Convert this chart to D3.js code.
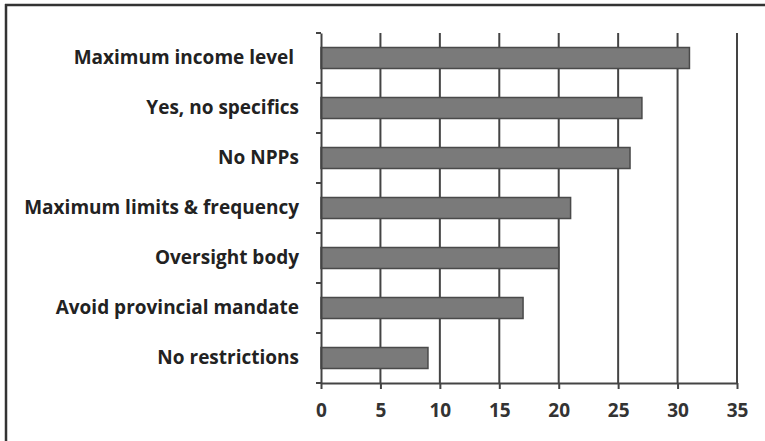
<!DOCTYPE html>
<html><head><meta charset="utf-8">
<script src="https://cdn.jsdelivr.net/npm/d3@7"></script>
<style>body{margin:0;background:#fff}svg{display:block}</style>
</head><body>
<svg id="c" width="765" height="441"></svg>
<script>
const categories = ["Maximum income level ", "Yes, no specifics", "No NPPs", "Maximum limits & frequency", "Oversight body", "Avoid provincial mandate", "No restrictions"];
const values = [31, 27, 26, 21, 20, 17, 9];
const xTicks = [0, 5, 10, 15, 20, 25, 30, 35];

const svg = d3.select("#c");
const L = 321, R = 737, T = 33, B = 383;
const x = d3.scaleLinear().domain([0, 35]).range([L, R]);
const y = d3.scaleBand().domain(categories).range([T, B]).paddingInner(0.58).paddingOuter(0.29);
const yb = d3.scaleBand().domain(categories).range([T, B]);

// frame
svg.append("line").attr("x1", 6).attr("x2", 6).attr("y1", 4).attr("y2", 441).attr("stroke", "#333").attr("stroke-width", 2.5);
svg.append("line").attr("x1", 5).attr("x2", 765).attr("y1", 5).attr("y2", 5).attr("stroke", "#333").attr("stroke-width", 2.5);

// gridlines
svg.append("g").selectAll("line").data(xTicks.slice(1)).join("line")
  .attr("x1", d => x(d)).attr("x2", d => x(d)).attr("y1", T).attr("y2", B)
  .attr("stroke", "#444").attr("stroke-width", 2);

// bars
svg.append("g").selectAll("rect").data(categories).join("rect")
  .attr("x", x(0)).attr("y", d => y(d))
  .attr("width", (d, i) => x(values[i]) - x(0)).attr("height", y.bandwidth())
  .attr("fill", "#7a7a7a").attr("stroke", "#4a4a4a").attr("stroke-width", 1.5);

// x axis
const xa = svg.append("g").attr("transform", `translate(0,${B})`)
  .call(d3.axisBottom(x).tickValues(xTicks).tickSize(6).tickSizeOuter(0).tickPadding(15));
xa.select(".domain").attr("stroke", "#444").attr("stroke-width", 2);
xa.selectAll(".tick line").attr("stroke", "#444").attr("stroke-width", 2);
xa.selectAll("text").attr("font-family", "'Open Sans', sans-serif").attr("font-weight", "bold")
  .attr("font-size", 19).attr("fill", "#333");

// y axis
const ya = svg.append("g").attr("transform", `translate(${L},0)`)
  .call(d3.axisLeft(yb).tickSize(0).tickSizeOuter(0).tickPadding(22));
ya.select(".domain").attr("stroke", "#444").attr("stroke-width", 2);
ya.selectAll("text").attr("font-family", "'Open Sans', sans-serif").attr("font-weight", "bold")
  .attr("font-size", 19).attr("fill", "#222").style("white-space", "pre");
// band boundary ticks
svg.append("g").selectAll("line").data(d3.range(categories.length + 1)).join("line")
  .attr("x1", L - 5).attr("x2", L).attr("y1", i => T + i * yb.step()).attr("y2", i => T + i * yb.step())
  .attr("stroke", "#444").attr("stroke-width", 2);
</script>
</body></html>
